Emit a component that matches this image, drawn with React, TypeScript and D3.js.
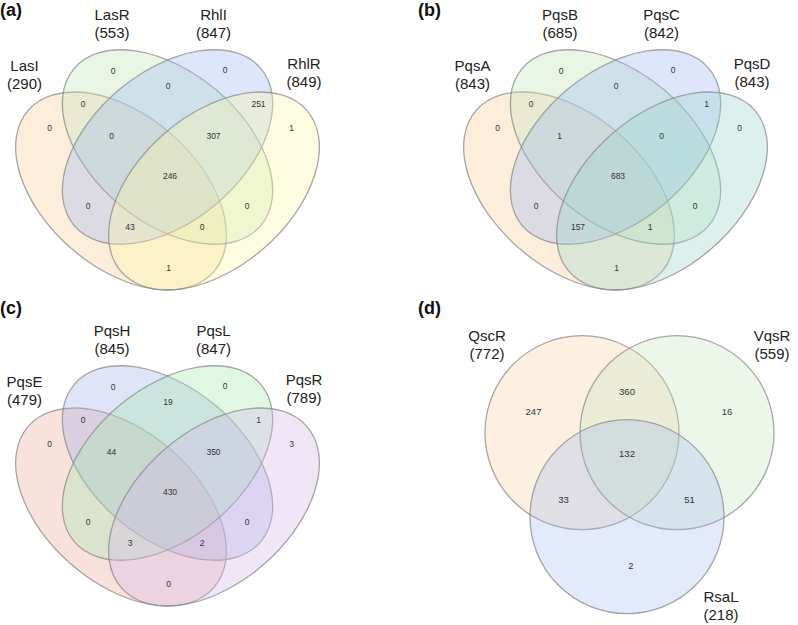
import React from "react";
import * as d3 from "d3";

// ---------- DATA ----------
// 4-set region order: only-A, AB, only-B, BC, only-C, CD, only-D, ABC, BCD, ABCD, AC, BD, ACD, ABD, AD
const regionKeys4 = ["A", "AB", "B", "BC", "C", "CD", "D", "ABC", "BCD", "ABCD", "AC", "BD", "ACD", "ABD", "AD"];

const setsA = ["LasI", "LasR", "RhlI", "RhlR"];
const sizesA = [290, 553, 847, 849];
const countsA = [0, 0, 0, 0, 0, 251, 1, 0, 307, 246, 0, 0, 43, 0, 1];

const setsB = ["PqsA", "PqsB", "PqsC", "PqsD"];
const sizesB = [843, 685, 842, 843];
const countsB = [0, 0, 0, 0, 0, 1, 0, 1, 0, 683, 0, 0, 157, 1, 1];

const setsC = ["PqsE", "PqsH", "PqsL", "PqsR"];
const sizesC = [479, 845, 847, 789];
const countsC = [0, 0, 0, 19, 0, 1, 3, 44, 350, 430, 0, 0, 3, 2, 0];

// 3-set region order: only-A, AB, only-B, ABC, AC, BC, only-C
const regionKeys3 = ["A", "AB", "B", "ABC", "AC", "BC", "C"];
const setsD = ["QscR", "VqsR", "RsaL"];
const sizesD = [772, 559, 218];
const countsD = [247, 360, 16, 132, 33, 51, 2];

const panelLetters = ["(a)", "(b)", "(c)", "(d)"];

// ---------- LAYOUT (shape of the diagrams, local units) ----------
const ELL4 = [
  { cx: -46.5, cy: 44, rx: 123, ry: 76, rot: 41 },
  { cx: 0, cy: 0, rx: 122, ry: 75, rot: 40 },
  { cx: 0, cy: 0, rx: 122, ry: 75, rot: -40 },
  { cx: 46.5, cy: 44, rx: 123, ry: 76, rot: -41 },
];
const SETLAB4: [number, number][] = [[-143, -81], [-55.5, -132], [46, -132], [136.5, -83]];
const REG4: Record<string, [number, number]> = {
  A: [-118, -18.7], AB: [-84.5, -42.7], B: [-54.5, -76.3], BC: [0.5, -61], C: [57.5, -77],
  CD: [91, -42.7], D: [124, -18.7], ABC: [-56, -11], BCD: [46, -11], ABCD: [2.5, 29],
  AC: [-79.5, 58.7], BD: [79.5, 58.7], ACD: [-37.5, 80.3], ABD: [34.5, 80.3], AD: [1, 120.7],
};

const CIR3 = [
  { cx: -45, cy: -40, r: 97 },
  { cx: 50, cy: -40, r: 97 },
  { cx: 0, cy: 44, r: 97 },
];
const SETLAB3: [number, number][] = [[-140, -137], [145, -137], [94, 124]];
const REG3: Record<string, [number, number]> = {
  A: [-93.5, -61], AB: [0, -81], B: [100, -61.5], ABC: [0, -18.7], AC: [-63.5, 27.3], BC: [62.5, 27.3], C: [4, 93.3],
};

const FILL_A = ["#F9CE9B", "#C0E5B8", "#9EB8F1", "#FCF6A6"];
const FILL_B = ["#F9CE9B", "#C0E5B8", "#9EB8F1", "#9BD7CE"];
const FILL_C = ["#EEA99B", "#A4B2EB", "#A4E8AF", "#D7B8EB"];
const FILL_D = ["#F9CE9B", "#C0E5B8", "#9EB8F1"];

const FONT = "'Liberation Sans', Arial, Helvetica, sans-serif";

function Venn4({ ox, oy, sets, sizes, counts, fills }: any) {
  const x = d3.scaleLinear().domain([-150, 150]).range([ox - 150, ox + 150]);
  const y = d3.scaleLinear().domain([-150, 150]).range([oy - 150, oy + 150]);
  return (
    <g>
      {ELL4.map((e, i) => (
        <ellipse
          key={i}
          cx={0}
          cy={0}
          rx={e.rx}
          ry={e.ry}
          transform={`translate(${x(e.cx)},${y(e.cy)}) rotate(${e.rot})`}
          fill={fills[i]}
          fillOpacity={0.35}
          stroke="#8a8a8a"
          strokeOpacity={0.75}
          strokeWidth={1.3}
        />
      ))}
      {regionKeys4.map((k, i) => (
        <text key={k} x={x(REG4[k][0])} y={y(REG4[k][1])} dy="0.35em" textAnchor="middle"
          fontSize={8.5} fill="#333" fontFamily={FONT}>{counts[i]}</text>
      ))}
      {sets.map((s: string, i: number) => (
        <g key={s}>
          <text x={x(SETLAB4[i][0])} y={y(SETLAB4[i][1])} dy="0.35em" textAnchor="middle" fontSize={15} fill="#222" fontFamily={FONT}>{s}</text>
          <text x={x(SETLAB4[i][0])} y={y(SETLAB4[i][1] + 18)} dy="0.35em" textAnchor="middle" fontSize={15} fill="#222" fontFamily={FONT}>({sizes[i]})</text>
        </g>
      ))}
    </g>
  );
}

function Venn3({ ox, oy, sets, sizes, counts, fills }: any) {
  const x = d3.scaleLinear().domain([-150, 150]).range([ox - 150, ox + 150]);
  const y = d3.scaleLinear().domain([-150, 150]).range([oy - 150, oy + 150]);
  return (
    <g>
      {CIR3.map((c, i) => (
        <circle key={i} cx={x(c.cx)} cy={y(c.cy)} r={c.r} fill={fills[i]} fillOpacity={0.3}
          stroke="#8a8a8a" strokeOpacity={0.75} strokeWidth={1.3} />
      ))}
      {regionKeys3.map((k, i) => (
        <text key={k} x={x(REG3[k][0])} y={y(REG3[k][1])} dy="0.35em" textAnchor="middle"
          fontSize={9.5} fill="#333" fontFamily={FONT}>{counts[i]}</text>
      ))}
      {sets.map((s: string, i: number) => (
        <g key={s}>
          <text x={x(SETLAB3[i][0])} y={y(SETLAB3[i][1])} dy="0.35em" textAnchor="middle" fontSize={15} fill="#222" fontFamily={FONT}>{s}</text>
          <text x={x(SETLAB3[i][0])} y={y(SETLAB3[i][1] + 18)} dy="0.35em" textAnchor="middle" fontSize={15} fill="#222" fontFamily={FONT}>({sizes[i]})</text>
        </g>
      ))}
    </g>
  );
}

const LETTER_POS: [number, number][] = [[0, 16], [418, 16], [0, 314], [418, 314]];

export default function App() {
  return (
    <svg width={798} height={625} style={{ position: "absolute", left: 0, top: 0, background: "#fff" }}>
      <rect width={798} height={625} fill="#fff" />
      <Venn4 ox={167.5} oy={147} sets={setsA} sizes={sizesA} counts={countsA} fills={FILL_A} />
      <Venn4 ox={615.5} oy={147} sets={setsB} sizes={sizesB} counts={countsB} fills={FILL_B} />
      <Venn4 ox={167.5} oy={463} sets={setsC} sizes={sizesC} counts={countsC} fills={FILL_C} />
      <Venn3 ox={627} oy={472.7} sets={setsD} sizes={sizesD} counts={countsD} fills={FILL_D} />
      {panelLetters.map((t, i) => (
        <text key={t} x={LETTER_POS[i][0]} y={LETTER_POS[i][1]} fontSize={18} fontWeight="bold" fill="#111" fontFamily={FONT}>{t}</text>
      ))}
    </svg>
  );
}
